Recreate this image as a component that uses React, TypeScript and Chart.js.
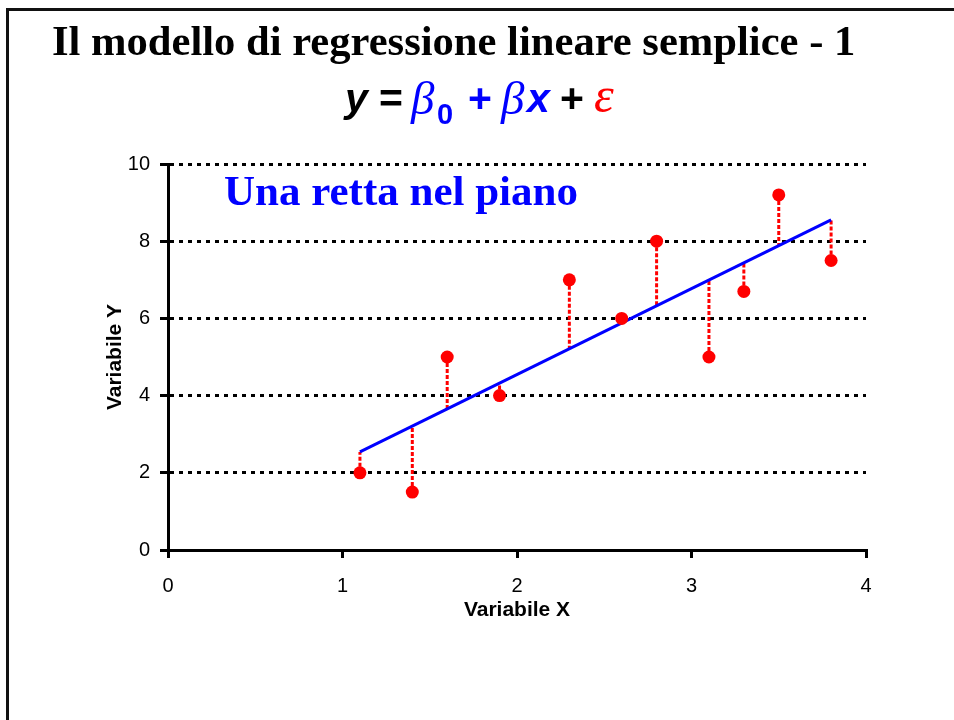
import React, { useEffect, useRef } from "react";
import { Chart, registerables } from "chart.js";

Chart.register(...registerables);

// ---- data ----
const xValues = [1.1, 1.4, 1.6, 1.9, 2.3, 2.6, 2.8, 3.1, 3.3, 3.5, 3.8];
const yValues = [2.0, 1.5, 5.0, 4.0, 7.0, 6.0, 8.0, 5.0, 6.7, 9.2, 7.5];
const fittedValues = [2.54, 3.21, 3.65, 4.32, 5.21, 5.88, 6.32, 6.99, 7.44, 7.88, 8.55];
const xTicks = [0, 1, 2, 3, 4];
const yTicks = [0, 2, 4, 6, 8, 10];
const titleText = "Il modello di regressione lineare semplice - 1";
const annotationText = "Una retta nel piano";
const xAxisTitle = "Variabile X";
const yAxisTitle = "Variabile Y";

const SANS = "'Liberation Sans', Arial, sans-serif";
const SERIF = "'Liberation Serif', 'Times New Roman', serif";

const textPlugin = {
  id: "slideText",
  afterDraw(chart: any) {
    const ctx: CanvasRenderingContext2D = chart.ctx;
    ctx.save();
    ctx.textAlign = "left";
    ctx.textBaseline = "alphabetic";

    // main title
    ctx.fillStyle = "#000";
    ctx.font = `bold 42.6px ${SERIF}`;
    ctx.fillText(titleText, 52, 55);

    // formula  y = β0 + βx + ε
    const pieces: [string, string, string, number, number][] = [
      ["y", `italic bold 41px ${SANS}`, "#000", 345, 112],
      ["=", `bold 41px ${SANS}`, "#000", 379, 112],
      ["\u03B2", `italic 47px ${SERIF}`, "#0000FF", 411, 114],
      ["0", `bold 29px ${SANS}`, "#0000FF", 437, 124],
      ["+", `bold 41px ${SANS}`, "#0000FF", 468, 112],
      ["\u03B2", `italic 47px ${SERIF}`, "#0000FF", 501, 114],
      ["x", `italic bold 41px ${SANS}`, "#0000FF", 527, 112],
      ["+", `bold 41px ${SANS}`, "#000", 560, 112],
      ["\u03B5", `italic 50px ${SERIF}`, "#FF0000", 594, 112],
    ];
    for (const [t, f, c, x, y] of pieces) {
      ctx.font = f;
      ctx.fillStyle = c;
      ctx.fillText(t, x, y);
    }

    // annotation inside plot
    ctx.font = `bold 43px ${SERIF}`;
    ctx.fillStyle = "#0000FF";
    ctx.fillText(annotationText, 224, 205);
    ctx.restore();
  },
};

function App() {
  const canvasRef = useRef<HTMLCanvasElement | null>(null);

  useEffect(() => {
    const canvas = canvasRef.current;
    if (!canvas) return;

    const points = xValues.map((x, i) => ({ x, y: yValues[i] }));
    const regression = [
      { x: xValues[0], y: fittedValues[0] },
      { x: xValues[xValues.length - 1], y: fittedValues[fittedValues.length - 1] },
    ];
    const residuals: any[] = [];
    xValues.forEach((x, i) => {
      residuals.push({ x, y: yValues[i] });
      residuals.push({ x, y: fittedValues[i] });
      residuals.push({ x, y: null });
    });

    const chart = new Chart(canvas, {
      type: "scatter",
      data: {
        datasets: [
          {
            label: "Osservazioni",
            data: points,
            backgroundColor: "#FF0000",
            borderColor: "#FF0000",
            pointRadius: 6.5,
            pointBorderWidth: 0,
            showLine: false,
            order: 0,
          },
          {
            label: "Retta",
            data: regression,
            borderColor: "#0000FF",
            borderWidth: 3,
            pointRadius: 0,
            showLine: true,
            order: 1,
          },
          {
            label: "Residui",
            data: residuals,
            borderColor: "#FF0000",
            borderWidth: 3,
            borderDash: [4, 2],
            pointRadius: 0,
            showLine: true,
            spanGaps: false,
            order: 2,
          },
        ] as any,
      },
      options: {
        animation: false,
        responsive: false,
        maintainAspectRatio: false,
        layout: { padding: { left: 100, right: 88, top: 164, bottom: 90 } },
        plugins: {
          legend: { display: false },
          tooltip: { enabled: false },
          title: { display: false },
        },
        scales: {
          x: {
            type: "linear",
            min: 0,
            max: 4,
            afterBuildTicks: (scale: any) => {
              scale.ticks = xTicks.map((v) => ({ value: v }));
            },
            afterFit: (scale: any) => {
              scale.height = 80;
            },
            grid: {
              drawOnChartArea: false,
              drawTicks: true,
              tickLength: 8,
              color: "#000",
              lineWidth: 3,
            },
            border: { display: true, color: "#000", width: 3 },
            ticks: {
              color: "#000",
              padding: 16,
              font: { family: SANS, size: 20 },
            },
            title: {
              display: true,
              text: xAxisTitle,
              color: "#000",
              font: { family: SANS, size: 21, weight: "bold" },
              padding: { top: 0, bottom: 7 },
            },
          },
          y: {
            type: "linear",
            min: 0,
            max: 10,
            afterBuildTicks: (scale: any) => {
              scale.ticks = yTicks.map((v) => ({ value: v }));
            },
            afterFit: (scale: any) => {
              scale.width = 68;
            },
            grid: {
              drawOnChartArea: true,
              drawTicks: true,
              tickLength: 8,
              color: "#000",
              lineWidth: 3,
            },
            border: { display: true, color: "#000", width: 3, dash: [4, 5] },
            ticks: {
              color: "#000",
              padding: 10,
              font: { family: SANS, size: 20 },
            },
            title: {
              display: true,
              text: yAxisTitle,
              color: "#000",
              font: { family: SANS, size: 21, weight: "bold" },
              padding: { top: 3, bottom: 0 },
            },
          },
        },
      } as any,
      plugins: [textPlugin],
    });

    return () => chart.destroy();
  }, []);

  return (
    <div style={{ position: "absolute", left: 0, top: 0, width: 954, height: 720, background: "#fff", overflow: "hidden" }}>
      <div
        style={{
          position: "absolute",
          left: 6,
          top: 8,
          width: 960,
          height: 720,
          borderTop: "3px solid #111",
          borderLeft: "3px solid #111",
          boxSizing: "border-box",
        }}
      />
      <canvas
        ref={canvasRef}
        width={954}
        height={720}
        style={{ position: "absolute", left: 0, top: 0, width: 954, height: 720 }}
      />
    </div>
  );
}

export default App;
